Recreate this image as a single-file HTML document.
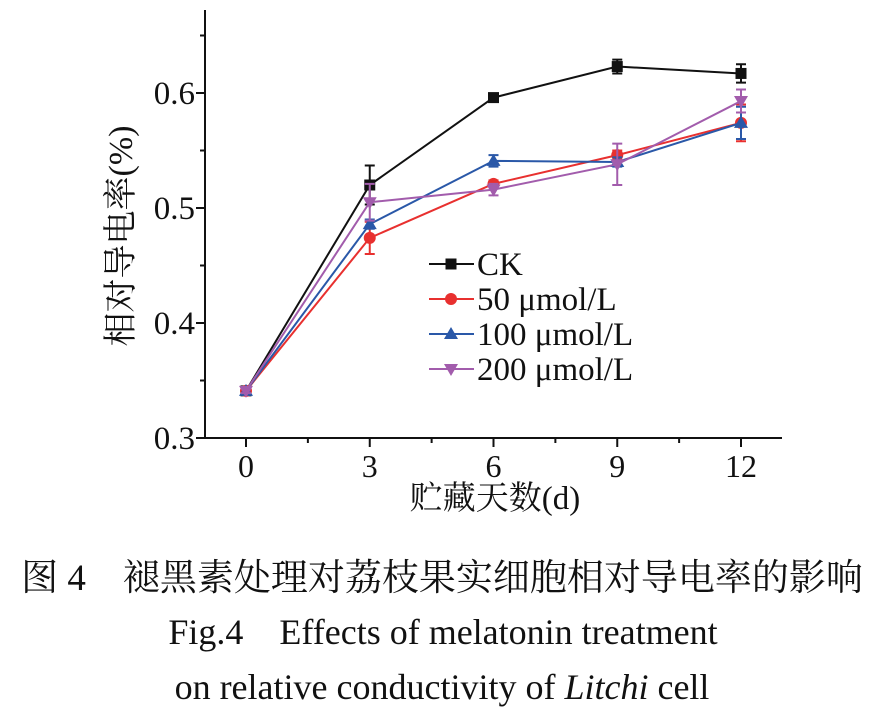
<!DOCTYPE html>
<html><head><meta charset="utf-8"><style>
body{margin:0;background:#fff;width:888px;height:723px;overflow:hidden}
svg text{font-family:"Liberation Serif","Noto Serif CJK SC",serif;fill:#111}
</style></head><body>
<svg id="chart" width="888" height="723" xmlns="http://www.w3.org/2000/svg">
<g id="axes"></g>
<g id="plot"></g>
<g id="legend"></g>
<text transform="translate(132,236) rotate(-90)" text-anchor="middle" font-size="34">相对导电率(%)</text>
<text x="495" y="509" text-anchor="middle" font-size="33">贮藏天数(d)</text>
<text x="442" y="590" text-anchor="middle" font-size="37">图 4　褪黑素处理对荔枝果实细胞相对导电率的影响</text>
<text x="443" y="644" text-anchor="middle" font-size="36">Fig.4　Effects of melatonin treatment</text>
<text x="442" y="699" text-anchor="middle" font-size="36">on relative conductivity of <tspan font-style="italic">Litchi</tspan> cell</text>
</svg>
<script>
const days=[0,3,6,9,12];
const xTicks=[0,3,6,9,12];
const yTicks=[0.3,0.4,0.5,0.6];
const seriesNames=["CK","50 μmol/L","100 μmol/L","200 μmol/L"];
const ck=[0.341,0.520,0.596,0.623,0.617];
const ckErr=[0.002,0.017,0.002,0.006,0.008];
const s50=[0.341,0.474,0.521,0.546,0.574];
const s50Err=[0.002,0.014,0.003,0.004,0.016];
const s100=[0.341,0.486,0.541,0.540,0.574];
const s100Err=[0.002,0.004,0.005,0.004,0.014];
const s200=[0.341,0.505,0.516,0.538,0.593];
const s200Err=[0.002,0.016,0.005,0.018,0.010];
const NS="http://www.w3.org/2000/svg";
const X0=205,X1=782,Y0=438,Y1=10;
const xs=d=>246+d*(741-246)/12;
const ys=v=>438-(v-0.3)*1150;
function mk(tag,attrs,parent){const e=document.createElementNS(NS,tag);for(const k in attrs)e.setAttribute(k,attrs[k]);parent.appendChild(e);return e;}
const ax=document.getElementById('axes'),pl=document.getElementById('plot'),lg=document.getElementById('legend');
let l=mk('line',{x1:X0,y1:Y0,x2:X0,y2:Y1,stroke:'#111','stroke-width':2},ax);

l=mk('line',{x1:X0,y1:Y0,x2:X1,y2:Y0,stroke:'#111','stroke-width':2},ax);

yTicks.forEach(v=>{const y=ys(v);mk('line',{x1:X0-9,y1:y,x2:X0,y2:y,stroke:'#111','stroke-width':2},ax);
 const t=mk('text',{x:X0-10,y:y+11,'text-anchor':'end','font-size':33},ax);t.textContent=v.toFixed(1);
 
 const ym=ys(v+0.05);if(ym>Y1)mk('line',{x1:X0-5,y1:ym,x2:X0,y2:ym,stroke:'#111','stroke-width':2},ax);});
xTicks.forEach((d,i)=>{const x=xs(d);mk('line',{x1:x,y1:Y0,x2:x,y2:Y0+9,stroke:'#111','stroke-width':2},ax);
 const t=mk('text',{x:x,y:Y0+39,'text-anchor':'middle','font-size':32},ax);t.textContent=d;
 
 if(i<xTicks.length-1){const xm=xs(d+1.5);mk('line',{x1:xm,y1:Y0,x2:xm,y2:Y0+5,stroke:'#111','stroke-width':2},ax);}});
function marker(type,x,y,c,parent){
 if(type==='sq')return mk('rect',{x:x-5.5,y:y-5.5,width:11,height:11,fill:c},parent);
 if(type==='ci')return mk('circle',{cx:x,cy:y,r:6,fill:c},parent);
 if(type==='up')return mk('polygon',{points:`${x},${y-7} ${x-7},${y+5} ${x+7},${y+5}`,fill:c},parent);
 return mk('polygon',{points:`${x},${y+7} ${x-7},${y-5} ${x+7},${y-5}`,fill:c},parent);}
const defs=[[ck,ckErr,'#111','sq','series-ck'],[s50,s50Err,'#e8302f','ci','series-50'],[s100,s100Err,'#2a58a8','up','series-100'],[s200,s200Err,'#a25cac','dn','series-200']];
defs.forEach(([vals,err,c,m,name],si)=>{
 const g=mk('g',{},pl);
 mk('polyline',{points:vals.map((v,i)=>xs(days[i])+','+ys(v)).join(' '),fill:'none',stroke:c,'stroke-width':2},g);
 vals.forEach((v,i)=>{const x=xs(days[i]),a=ys(v+err[i]),b=ys(v-err[i]);
  mk('path',{d:`M${x},${a}V${b}M${x-5},${a}H${x+5}M${x-5},${b}H${x+5}`,stroke:c,'stroke-width':2,fill:'none'},g);
  const mm=marker(m,x,ys(v),c,g);});
 const ly=264+si*35;
 const le=mk('g',{},lg);
 mk('line',{x1:429,y1:ly,x2:474,y2:ly,stroke:c,'stroke-width':2},le);
 marker(m,451,ly,c,le);
 const t=mk('text',{x:477,y:ly+11,'font-size':33},le);t.textContent=seriesNames[si];});
</script>
</body></html>
